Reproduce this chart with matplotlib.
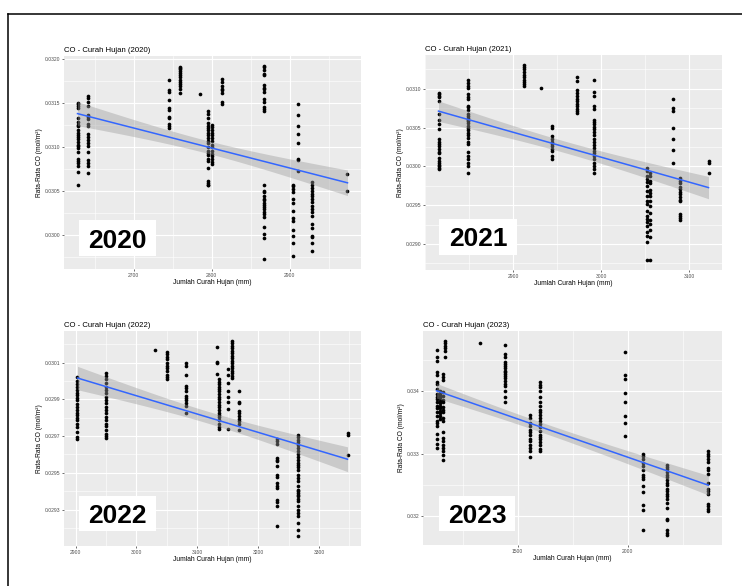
import matplotlib
matplotlib.use("Agg")
import matplotlib.pyplot as plt
from matplotlib.lines import Line2D
from matplotlib.ticker import FixedLocator, MultipleLocator, FormatStrFormatter
import numpy as np

plt.rcParams['font.family'] = ['Liberation Sans', 'DejaVu Sans']

''' Data: curah hujan (mm) vs rata-rata CO, per tahun '''

# 2020
rain_2020 = [2628] * 24 + [2642] * 19 + [2745] * 11 + [2759] * 13 + [2785] + [2795] * 23 \
    + [2800] * 15 + [2813] * 8 + [2867] * 31 + [2904] * 13 + [2910] * 8 + [2928] * 18 + [2974] * 2
co_2020 = [
    0.03150, 0.03149, 0.03146, 0.03144, 0.03132, 0.03128, 0.03125, 0.03123, 0.03119, 0.03116,
    0.03113, 0.03111, 0.03109, 0.03105, 0.03102, 0.03101, 0.03098, 0.03094, 0.03086, 0.03084,
    0.03081, 0.03078, 0.03071, 0.03056,
    0.03158, 0.03155, 0.03151, 0.03146, 0.03136, 0.03134, 0.03131, 0.03126, 0.03123, 0.03114,
    0.03111, 0.03108, 0.03104, 0.03101, 0.03094, 0.03085, 0.03082, 0.03078, 0.03070,
    0.03176, 0.03164, 0.03162, 0.03153, 0.03144, 0.03142, 0.03134, 0.03132, 0.03126, 0.03124, 0.03121,
    0.03191, 0.03189, 0.03188, 0.03186, 0.03184, 0.03181, 0.03179, 0.03176, 0.03174, 0.03171,
    0.03169, 0.03166, 0.03161,
    0.03160,
    0.03140, 0.03137, 0.03132, 0.03127, 0.03124, 0.03121, 0.03119, 0.03116, 0.03113, 0.03110,
    0.03106, 0.03104, 0.03100, 0.03095, 0.03093, 0.03090, 0.03086, 0.03084, 0.03076, 0.03061,
    0.03059, 0.03057, 0.03056,
    0.03125, 0.03122, 0.03119, 0.03116, 0.03113, 0.03110, 0.03106, 0.03102, 0.03100, 0.03095,
    0.03092, 0.03089, 0.03086, 0.03083, 0.03080,
    0.03177, 0.03173, 0.03169, 0.03166, 0.03164, 0.03161, 0.03151, 0.03149,
    0.03192, 0.03191, 0.03187, 0.03183, 0.03181, 0.03170, 0.03167, 0.03165, 0.03162, 0.03154,
    0.03151, 0.03145, 0.03143, 0.03140, 0.03057, 0.03050, 0.03048, 0.03044, 0.03041, 0.03039,
    0.03036, 0.03034, 0.03031, 0.03029, 0.03026, 0.03023, 0.03020, 0.03009, 0.03001, 0.02996,
    0.02972,
    0.03057, 0.03055, 0.03052, 0.03048, 0.03041, 0.03036, 0.03027, 0.03019, 0.03016, 0.03005,
    0.02999, 0.02991, 0.02976,
    0.03148, 0.03136, 0.03124, 0.03114, 0.03104, 0.03086, 0.03085, 0.03072,
    0.03060, 0.03056, 0.03053, 0.03050, 0.03046, 0.03044, 0.03041, 0.03037, 0.03033, 0.03029,
    0.03026, 0.03021, 0.03012, 0.03008, 0.02999, 0.02997, 0.02991, 0.02981,
    0.03069, 0.03050,
]

# 2021
rain_2021 = [2815] * 23 + [2848] * 30 + [2912] * 10 + [2931] + [2944] * 11 + [2973] * 12 \
    + [2992] * 24 + [3052] * 19 + [3055] * 15 + [3082] * 7 + [3090] * 14 + [3122] * 3
co_2021 = [
    0.03095, 0.03093, 0.03091, 0.03089, 0.03084, 0.03067, 0.03060, 0.03054, 0.03048, 0.03035,
    0.03032, 0.03029, 0.03026, 0.03022, 0.03018, 0.03017, 0.03011, 0.03007, 0.03005, 0.03002,
    0.03000, 0.02998, 0.02997,
    0.03111, 0.03108, 0.03104, 0.03101, 0.03093, 0.03090, 0.03087, 0.03078, 0.03077, 0.03073,
    0.03067, 0.03065, 0.03063, 0.03060, 0.03058, 0.03056, 0.03052, 0.03050, 0.03047, 0.03043,
    0.03040, 0.03037, 0.03032, 0.03029, 0.03018, 0.03013, 0.03010, 0.03005, 0.03001, 0.02992,
    0.03131, 0.03128, 0.03125, 0.03122, 0.03118, 0.03115, 0.03112, 0.03109, 0.03106, 0.03103,
    0.03101,
    0.03052, 0.03049, 0.03039, 0.03035, 0.03032, 0.03029, 0.03026, 0.03023, 0.03020, 0.03014, 0.03009,
    0.03115, 0.03110, 0.03099, 0.03094, 0.03091, 0.03087, 0.03084, 0.03081, 0.03078, 0.03074,
    0.03071, 0.03069,
    0.03111, 0.03096, 0.03091, 0.03078, 0.03074, 0.03060, 0.03057, 0.03054, 0.03051, 0.03048,
    0.03044, 0.03041, 0.03035, 0.03032, 0.03028, 0.03024, 0.03020, 0.03017, 0.03013, 0.03009,
    0.03004, 0.03000, 0.02996, 0.02992,
    0.02998, 0.02994, 0.02987, 0.02984, 0.02980, 0.02975, 0.02968, 0.02962, 0.02955, 0.02951,
    0.02942, 0.02936, 0.02932, 0.02928, 0.02923, 0.02916, 0.02910, 0.02902, 0.02879,
    0.02992, 0.02988, 0.02981, 0.02978, 0.02969, 0.02966, 0.02962, 0.02955, 0.02949, 0.02940,
    0.02931, 0.02926, 0.02918, 0.02909, 0.02879,
    0.03087, 0.03075, 0.03071, 0.03050, 0.03035, 0.03021, 0.03004,
    0.02985, 0.02981, 0.02978, 0.02974, 0.02971, 0.02967, 0.02964, 0.02961, 0.02957, 0.02955,
    0.02938, 0.02936, 0.02934, 0.02931,
    0.03007, 0.03005, 0.02992,
]

# 2022
rain_2022 = [2903] * 21 + [2950] * 21 + [3031] + [3051] * 11 + [3082] * 12 + [3132] * 4 \
    + [3136] * 20 + [3150] * 8 + [3157] * 16 + [3168] * 10 + [3231] * 16 + [3266] * 32 + [3347] * 3
co_2022 = [
    0.030024, 0.030002, 0.029984, 0.029966, 0.029952, 0.029937, 0.029924, 0.029906, 0.029894,
    0.029876, 0.029861, 0.029843, 0.029828, 0.029816, 0.029798, 0.029785, 0.029767, 0.029749,
    0.029725, 0.029695, 0.029684,
    0.030042, 0.030028, 0.030010, 0.029988, 0.029966, 0.029952, 0.029933, 0.029912, 0.029897,
    0.029879, 0.029861, 0.029843, 0.029825, 0.029803, 0.029785, 0.029767, 0.029756, 0.029731,
    0.029713, 0.029702, 0.029689,
    0.030169,
    0.030160, 0.030147, 0.030133, 0.030118, 0.030096, 0.030082, 0.030069, 0.030057, 0.030033,
    0.030020, 0.030010,
    0.030096, 0.030082, 0.030033, 0.029973, 0.029961, 0.029948, 0.029919, 0.029906, 0.029894,
    0.029879, 0.029865, 0.029825,
    0.030183, 0.030105, 0.030096, 0.030038,
    0.030010, 0.029997, 0.029984, 0.029970, 0.029955, 0.029943, 0.029930, 0.029915, 0.029901,
    0.029888, 0.029870, 0.029857, 0.029843, 0.029828, 0.029816, 0.029803, 0.029789, 0.029767,
    0.029752, 0.029738,
    0.030064, 0.030033, 0.029991, 0.029943, 0.029912, 0.029883, 0.029847, 0.029738,
    0.030219, 0.030205, 0.030191, 0.030178, 0.030165, 0.030151, 0.030136, 0.030124, 0.030111,
    0.030096, 0.030082, 0.030069, 0.030057, 0.030042, 0.030028, 0.030015,
    0.029943, 0.029888, 0.029879, 0.029839, 0.029825, 0.029810, 0.029792, 0.029780, 0.029767,
    0.029734,
    0.029684, 0.029671, 0.029658, 0.029581, 0.029571, 0.029562, 0.029539, 0.029490, 0.029477,
    0.029445, 0.029427, 0.029418, 0.029354, 0.029340, 0.029318, 0.029209,
    0.029707, 0.029695, 0.029680, 0.029666, 0.029653, 0.029635, 0.029617, 0.029604, 0.029586,
    0.029571, 0.029553, 0.029544, 0.029532, 0.029517, 0.029490, 0.029472, 0.029454, 0.029427,
    0.029409, 0.029400, 0.029390, 0.029381, 0.029372, 0.029358, 0.029345, 0.029322, 0.029296,
    0.029282, 0.029267, 0.029228, 0.029191, 0.029155,
    0.029716, 0.029707, 0.029595,
]

# 2023
rain_2023 = [1132] * 23 + [1147] * 12 + [1161] * 20 + [1170] * 6 + [1330] + [1442] * 18 \
    + [1555] * 13 + [1603] * 22 + [1988] * 8 + [2068] * 14 + [2180] * 21 + [2367] * 16
co_2023 = [
    0.034667, 0.034544, 0.034491, 0.034315, 0.034261, 0.034155, 0.034117, 0.034037, 0.033957,
    0.033904, 0.033877, 0.033824, 0.033771, 0.033728, 0.033664, 0.033600, 0.033531, 0.033493,
    0.033451, 0.033317, 0.033237, 0.033157, 0.033088,
    0.034011, 0.033957, 0.033920, 0.033888, 0.033851, 0.033813, 0.033771, 0.033728, 0.033691,
    0.033653, 0.033611, 0.033557,
    0.034277, 0.034224, 0.034187, 0.033984, 0.033931, 0.033867, 0.033835, 0.033744, 0.033707,
    0.033675, 0.033568, 0.033531, 0.033355, 0.033248, 0.033195, 0.033141, 0.033088, 0.033035,
    0.032971, 0.032891,
    0.034811, 0.034773, 0.034731, 0.034688, 0.034651, 0.034544,
    0.034773,
    0.034741, 0.034597, 0.034544, 0.034464, 0.034437, 0.034400, 0.034368, 0.034331, 0.034304,
    0.034277, 0.034240, 0.034208, 0.034171, 0.034117, 0.034080, 0.034011, 0.033904, 0.033835,
    0.033621, 0.033568, 0.033493, 0.033451, 0.033387, 0.033344, 0.033301, 0.033237, 0.033195,
    0.033141, 0.033088, 0.033035, 0.032944,
    0.034155, 0.034101, 0.034064, 0.034011, 0.033904, 0.033824, 0.033771, 0.033707, 0.033675,
    0.033621, 0.033568, 0.033531, 0.033477, 0.033424, 0.033371, 0.033301, 0.033264, 0.033227,
    0.033184, 0.033131, 0.033077, 0.033035,
    0.034624, 0.034261, 0.034197, 0.033973, 0.033835, 0.033611, 0.033493, 0.033280,
    0.032997, 0.032960, 0.032917, 0.032853, 0.032800, 0.032731, 0.032661, 0.032624, 0.032587,
    0.032480, 0.032384, 0.032181, 0.032091, 0.031771,
    0.032821, 0.032784, 0.032747, 0.032704, 0.032661, 0.032624, 0.032571, 0.032533, 0.032491,
    0.032437, 0.032395, 0.032357, 0.032320, 0.032267, 0.032213, 0.032128, 0.031957, 0.031931,
    0.031771, 0.031733, 0.031691,
    0.033035, 0.032997, 0.032960, 0.032917, 0.032864, 0.032768, 0.032731, 0.032677, 0.032533,
    0.032437, 0.032395, 0.032357, 0.032197, 0.032160, 0.032117, 0.032075,
]

years = ['2020', '2021', '2022', '2023']
rain_data = [rain_2020, rain_2021, rain_2022, rain_2023]
co_data = [co_2020, co_2021, co_2022, co_2023]

# tick sumbu
xticks = [[2700, 2800, 2900], [2900, 3000, 3100], [2900, 3000, 3100, 3200, 3300], [1500, 2000]]
yticks = [[0.0300, 0.0305, 0.0310, 0.0315, 0.0320],
          [0.0290, 0.0295, 0.0300, 0.0305, 0.0310],
          [0.0293, 0.0295, 0.0297, 0.0299, 0.0301],
          [0.032, 0.033, 0.034]]
y_fmt = ['%.4f', '%.4f', '%.4f', '%.3f']

''' Layout (pixel) '''
W, H = 742, 586
panel_px = [(64, 56, 361, 269), (425, 55, 722, 270), (64, 331, 361, 546), (423, 331, 722, 545)]
box_px = [(79, 220, 156, 256), (439, 219, 517, 255), (79, 496, 156, 531), (439, 496, 515, 531)]

fig = plt.figure(figsize=(W / 100, H / 100), dpi=100)

# bingkai hitam
fig.add_artist(Line2D([8 / W, 1], [1 - 14 / H, 1 - 14 / H], color='black', lw=1.1))
fig.add_artist(Line2D([8 / W, 8 / W], [1 - 14 / H, 0], color='black', lw=1.1))


def fit_band(x, y, xs):
    x = np.asarray(x, float)
    y = np.asarray(y, float)
    b, a = np.polyfit(x, y, 1)
    n = len(x)
    resid = y - (a + b * x)
    s = np.sqrt(np.sum(resid ** 2) / (n - 2))
    sxx = np.sum((x - x.mean()) ** 2)
    se = s * np.sqrt(1 / n + (xs - x.mean()) ** 2 / sxx)
    yhat = a + b * xs
    return yhat, yhat - 1.97 * se, yhat + 1.97 * se


for i, year in enumerate(years):
    x0, y0, x1, y1 = panel_px[i]
    ax = fig.add_axes([x0 / W, 1 - y1 / H, (x1 - x0) / W, (y1 - y0) / H])
    ax.set_facecolor('#EBEBEB')
    for sp in ax.spines.values():
        sp.set_visible(False)

    x = rain_data[i]
    y = co_data[i]
    ax.scatter(x, y, s=7, color='black', linewidths=0, zorder=3)

    xs = np.linspace(min(x), max(x), 100)
    yhat, lo, hi = fit_band(x, y, xs)
    ax.fill_between(xs, lo, hi, color='#999999', alpha=0.4, linewidth=0, zorder=4)
    ax.plot(xs, yhat, color='#3366FF', lw=1.1, zorder=5)

    ax.margins(0.05)
    xt = xticks[i]
    yt = yticks[i]
    ax.xaxis.set_major_locator(FixedLocator(xt))
    ax.yaxis.set_major_locator(FixedLocator(yt))
    ax.xaxis.set_minor_locator(MultipleLocator((xt[1] - xt[0]) / 2))
    ax.yaxis.set_minor_locator(MultipleLocator((yt[1] - yt[0]) / 2))
    ax.yaxis.set_major_formatter(FormatStrFormatter(y_fmt[i]))
    ax.grid(which='major', color='white', lw=0.8)
    ax.grid(which='minor', color='white', lw=0.4)
    ax.set_axisbelow(True)
    ax.tick_params(which='major', length=1.5, width=0.5, color='#333333',
                   labelsize=3.6, labelcolor='#4D4D4D', pad=1.2)
    ax.tick_params(which='minor', length=0)

    ax.set_title(f'CO - Curah Hujan ({year})', fontsize=5.6, loc='left', pad=3)
    ax.set_xlabel('Jumlah Curah Hujan (mm)', fontsize=4.8, labelpad=1)
    ax.set_ylabel('Rata-Rata CO (mol/m²)', fontsize=4.8, labelpad=1)

    # label tahun besar
    bx0, by0, bx1, by1 = box_px[i]
    fig.patches.append(plt.Rectangle((bx0 / W, 1 - by1 / H), (bx1 - bx0) / W, (by1 - by0) / H,
                                     transform=fig.transFigure, facecolor='white',
                                     edgecolor='none', zorder=10))
    fig.text((bx0 + bx1) / 2 / W, 1 - (by0 + by1) / 2 / H, year, fontsize=19,
             fontweight='bold', ha='center', va='center_baseline', zorder=11)

fig.savefig('out.png', dpi=100)
